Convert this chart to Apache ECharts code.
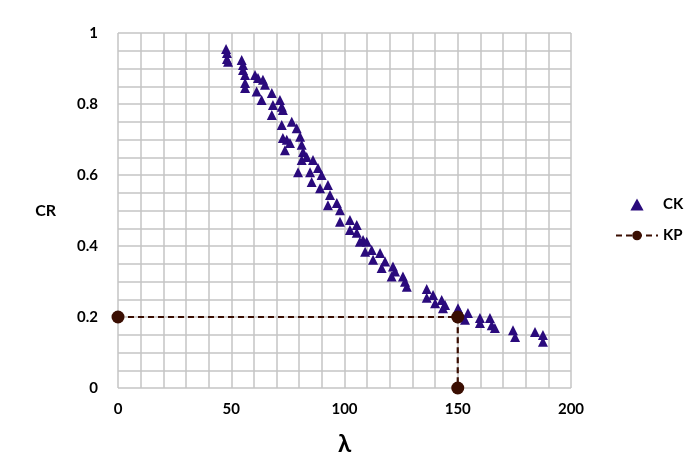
<!DOCTYPE html>
<html>
<head>
<meta charset="utf-8">
<script src="https://cdn.jsdelivr.net/npm/echarts@6/dist/echarts.min.js"></script>
<style>
  html, body { margin: 0; padding: 0; background: #fff; }
  #chart { width: 700px; height: 473px; }
</style>
</head>
<body>
<div id="chart"></div>
<script>
// CK points: [lambda, CR]
var ckLambda = [47.7, 48.1, 48.1, 48.6, 54.6, 55.2, 55.2, 56.1, 56.1, 56.1, 60.5, 61.8, 64.0, 64.9, 61.2, 63.4,
  67.9, 71.5, 68.4, 67.9, 72.3, 72.8, 72.3, 76.7, 78.9, 74.5, 75.9, 80.4, 81.1, 72.8, 73.7, 81.7, 83.3,
  81.1, 86.1, 88.3, 79.5, 84.8, 85.5, 89.9, 89.2, 92.7, 93.6, 92.7, 96.6, 98.0, 98.0, 102.4, 105.4, 102.4,
  105.4, 108.2, 109.8, 106.8, 112.0, 109.1, 115.7, 112.6, 117.9, 116.4, 121.4, 122.3, 120.8, 125.8, 126.7,
  127.5, 136.3, 136.3, 139.1, 140.0, 142.9, 144.4, 143.5, 150.1, 151.0, 154.5, 153.2, 159.8, 159.8, 164.2,
  165.0, 166.4, 174.4, 175.3, 184.1, 187.6, 187.6];
var ckCR = [0.955, 0.944, 0.927, 0.919, 0.924, 0.910, 0.896, 0.882, 0.859, 0.845, 0.882, 0.873, 0.868, 0.854,
  0.835, 0.811, 0.831, 0.811, 0.797, 0.769, 0.792, 0.783, 0.741, 0.750, 0.732, 0.699, 0.690, 0.708, 0.685,
  0.704, 0.670, 0.665, 0.651, 0.642, 0.642, 0.620, 0.608, 0.608, 0.580, 0.600, 0.563, 0.572, 0.544, 0.515,
  0.521, 0.501, 0.468, 0.473, 0.459, 0.445, 0.437, 0.417, 0.412, 0.412, 0.389, 0.384, 0.380, 0.361, 0.356,
  0.338, 0.342, 0.328, 0.314, 0.314, 0.299, 0.285, 0.279, 0.254, 0.262, 0.239, 0.248, 0.234, 0.225, 0.225,
  0.211, 0.211, 0.192, 0.197, 0.183, 0.197, 0.177, 0.169, 0.163, 0.144, 0.158, 0.149, 0.130];

// KP dashed guide line
var kpLambda = [0, 150, 150];
var kpCR = [0.2, 0.2, 0];

var ckData = [];
for (let i = 0; i < ckLambda.length; i++) {
  ckData.push([ckLambda[i], ckCR[i]]);
}
var kpData = [];
for (let i = 0; i < kpLambda.length; i++) {
  kpData.push([kpLambda[i], kpCR[i]]);
}

var font = "Lato, 'Open Sans', sans-serif";
var chart = echarts.init(document.getElementById("chart"), null, { renderer: "canvas" });

var option = {
  animation: false,
  textStyle: { fontFamily: font },
  grid: { left: 118, right: 129, top: 33, bottom: 85 },
  xAxis: {
    type: "value",
    min: 0,
    max: 200,
    interval: 10,
    name: "λ",
    nameLocation: "middle",
    nameGap: 44,
    nameTextStyle: { color: "#000", fontWeight: "bold", fontSize: 24, fontFamily: font },
    axisLine: { show: false },
    axisTick: { show: false },
    axisLabel: {
      color: "#000", fontWeight: "bold", fontSize: 15, margin: 14,
      formatter: function (v) { return v % 50 === 0 ? String(v) : ""; }
    },
    splitLine: { lineStyle: { color: "#c4c4c4", width: 1.5 } }
  },
  yAxis: {
    type: "value",
    min: 0,
    max: 1,
    interval: 0.05,
    name: "CR",
    nameLocation: "middle",
    nameRotate: 0,
    nameGap: 62,
    nameTextStyle: { color: "#000", fontWeight: "bold", fontSize: 16, fontFamily: font },
    axisLine: { show: false },
    axisTick: { show: false },
    axisLabel: {
      color: "#000", fontWeight: "bold", fontSize: 15, margin: 20,
      formatter: function (v) {
        var k = Math.round(v * 20);
        if (k % 4 !== 0) return "";
        return String(Math.round(v * 10) / 10);
      }
    },
    splitLine: { lineStyle: { color: "#c4c4c4", width: 1.5 } }
  },
  legend: {
    orient: "vertical",
    left: 610,
    top: 192,
    itemGap: 16,
    itemWidth: 42,
    itemHeight: 12,
    textStyle: { color: "#000", fontWeight: "bold", fontSize: 15, fontFamily: font },
    data: [
      { name: "CK", icon: "path://M0,10 L5.5,0 L11,10 Z" },
      { name: "KP" }
    ]
  },
  series: [
    {
      name: "CK",
      type: "scatter",
      symbol: "triangle",
      symbolSize: 10,
      itemStyle: { color: "#2a0a7c", opacity: 1 },
      data: ckData
    },
    {
      name: "KP",
      type: "line",
      symbol: "circle",
      symbolSize: 13,
      itemStyle: { color: "#3a0e02" },
      lineStyle: { color: "#3a0e02", type: [6, 4], width: 2.2 },
      data: kpData,
      z: 3
    }
  ]
};

chart.setOption(option);
window.addEventListener("resize", chart.resize);
</script>
</body>
</html>
